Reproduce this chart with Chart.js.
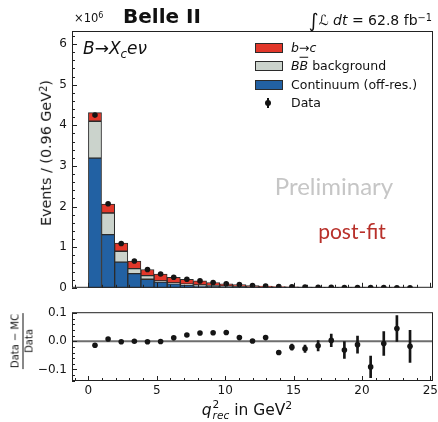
<!DOCTYPE html>
<html>
<head>
<meta charset="utf-8">
<script src="https://cdn.jsdelivr.net/npm/chart.js@4.4.0/dist/chart.umd.min.js"></script>
<style>
  html, body { margin: 0; padding: 0; background: #fff; }
  #wrap { position: relative; width: 438px; height: 422px; overflow: hidden; font-family: "DejaVu Sans", sans-serif; color: #111; }
  #mainChart { position: absolute; left: 0; top: 0; }
  #ratioChart { position: absolute; left: 0; top: 300px; }
  .t { position: absolute; white-space: nowrap; line-height: 1; }
  .c { transform: translate(-50%, -50%); }
  .rot { transform: translate(-50%, -50%) rotate(-90deg); }
  .sup { font-size: 0.7em; position: relative; top: -0.45em; }
  .patch { position: absolute; width: 26px; height: 8px; border: 1px solid #2b2b2b; }
  .leg { position: absolute; left: 291px; font-size: 12.5px; line-height: 1; white-space: nowrap; transform: translateY(-50%); }
  .ss { display: inline-flex; flex-direction: column; vertical-align: middle; font-size: 0.68em; line-height: 1; margin-left: 1px; }
  .frac { display: inline-flex; flex-direction: column; align-items: center; font-size: 10px; line-height: 1.15; }
  .frac .num { border-bottom: 1px solid #111; padding: 0 1px 1px; }
</style>
</head>
<body>
<div id="wrap">
  <canvas id="mainChart" width="438" height="300"></canvas>
  <canvas id="ratioChart" width="438" height="122"></canvas>

  <div class="t" style="left:74px; top:13px; font-size:11.5px;">×10<span class="sup">6</span></div>
  <div class="t" style="left:123px; top:6px; font-size:20px; font-weight:bold;">Belle II</div>
  <div class="t" style="right:6px; top:9px; font-size:14px;"><span style="font-size:1.35em; position:relative; top:0.08em;">∫</span><i>ℒ dt</i> = 62.8 fb<span class="sup">−1</span></div>

  <div class="t" style="left:83px; top:40px; font-size:17px; font-style:italic;">B→X<span style="font-size:0.7em; position:relative; top:0.35em;">c</span>eν</div>

  <div class="patch" style="left:255px; top:43px; background:#e2372a;"></div>
  <div class="leg" style="top:47.5px;"><i>b</i>→<i>c</i></div>
  <div class="patch" style="left:255px; top:61px; background:#cbd3cc;"></div>
  <div class="leg" style="top:66px;"><i>B</i><i style="text-decoration:overline;">B</i> background</div>
  <div class="patch" style="left:255px; top:80px; background:#2261a3;"></div>
  <div class="leg" style="top:84.5px;">Continuum (off-res.)</div>
  <div style="position:absolute; left:267px; top:98px; width:2px; height:10px; background:#111;"></div>
  <div style="position:absolute; left:265px; top:100px; width:6px; height:6px; border-radius:50%; background:#111;"></div>
  <div class="leg" style="top:103px;">Data</div>

  <div class="t c" style="left:334px; top:186px; font-family:Lato, sans-serif; font-size:24px; color:#c6c6c6;">Preliminary</div>
  <div class="t c" style="left:352px; top:230px; font-family:Lato, sans-serif; font-size:21px; color:#b8302a;">post-fit</div>

  <div class="t rot" style="left:46px; top:153px; font-size:14.3px;">Events / (0.96 GeV<span class="sup">2</span>)</div>
  <div class="t rot" style="left:20px; top:341px;"><span class="frac"><span class="num">Data − MC</span><span>Data</span></span></div>
  <div class="t c" style="left:247px; top:410px; font-size:15.5px;"><i>q</i><span class="ss"><span>2</span><i>rec</i></span> in GeV<span class="sup">2</span></div>
</div>

<script>
// bin centres of q^2_rec (GeV^2), bin width 0.96
const binCenters = [0.48, 1.44, 2.40, 3.36, 4.32, 5.28, 6.24, 7.20, 8.16, 9.12, 10.08, 11.04, 12.00,
                    12.96, 13.92, 14.88, 15.84, 16.80, 17.76, 18.72, 19.68, 20.64, 21.60, 22.56, 23.52];

// stacked MC templates, in units of 10^6 events
const continuum = [3.19, 1.31, 0.63, 0.35, 0.21, 0.14, 0.10, 0.07, 0.05, 0.04, 0.03, 0.022, 0.016,
                   0.012, 0.009, 0.007, 0.005, 0.004, 0.003, 0.002, 0.002, 0.0015, 0.001, 0.001, 0.0008];
const bbBackground = [0.91, 0.53, 0.27, 0.12, 0.09, 0.03, 0.02, 0.02, 0.02, 0.015, 0.01, 0.008, 0.006,
                      0.005, 0.004, 0.003, 0.002, 0.002, 0.0015, 0.001, 0.001, 0.001, 0.0008, 0.0006, 0.0005];
const bToC = [0.21, 0.22, 0.20, 0.19, 0.15, 0.17, 0.14, 0.12, 0.10, 0.075, 0.06, 0.05, 0.033,
              0.023, 0.018, 0.012, 0.010, 0.007, 0.006, 0.005, 0.003, 0.0025, 0.002, 0.0015, 0.001];
const dataVals = [4.25, 2.07, 1.09, 0.66, 0.45, 0.34, 0.26, 0.21, 0.17, 0.13, 0.10, 0.08, 0.055,
                  0.04, 0.03, 0.022, 0.017, 0.013, 0.010, 0.008, 0.006, 0.005, 0.004, 0.003, 0.002];

// (Data - MC) / Data and its uncertainty
const ratioVals = [-0.014, 0.008, -0.002, 0.000, -0.002, -0.001, 0.012, 0.022, 0.029, 0.030, 0.031, 0.013, 0.001,
                   0.013, -0.040, -0.021, -0.027, -0.016, 0.003, -0.031, -0.012, -0.091, -0.008, 0.045, -0.018];
const ratioErr = [0.003, 0.003, 0.003, 0.003, 0.003, 0.003, 0.003, 0.003, 0.003, 0.004, 0.004, 0.004, 0.005,
                  0.006, 0.008, 0.011, 0.013, 0.018, 0.022, 0.030, 0.030, 0.038, 0.042, 0.046, 0.057];

// ticks
const xMajor = [0, 5, 10, 15, 20, 25];
const mainYMajor = [0, 1, 2, 3, 4, 5, 6];
const ratioYMajor = [-0.1, 0, 0.1];

const RED = '#e2372a';
const GREY = '#cbd3cc';
const BLUE = '#2261a3';
const INK = '#151515';

function minorTicks(lo, hi, step, major) {
    const out = [];
    for (let v = lo; v <= hi + 1e-9; v += step) {
        const r = Math.round(v * 1000) / 1000;
        if (!major.some(m => Math.abs(m - r) < 1e-6)) out.push(r);
    }
    return out;
}

// matplotlib-like frame with inward ticks on the left and bottom
const frameTicks = {
    id: 'frameTicks',
    afterDraw(chart, args, opts) {
        const { ctx, chartArea: a, scales } = chart;
        ctx.save();
        ctx.strokeStyle = '#222';
        ctx.lineWidth = 1;
        ctx.strokeRect(a.left + 0.5, a.top + 0.5, a.width - 1, a.height - 1);
        const draw = (axis, vals, len) => vals.forEach(v => {
            const p = Math.round(scales[axis].getPixelForValue(v)) + 0.5;
            ctx.beginPath();
            if (axis === 'x') { ctx.moveTo(p, a.bottom); ctx.lineTo(p, a.bottom - len); }
            else { ctx.moveTo(a.left, p); ctx.lineTo(a.left + len, p); }
            ctx.stroke();
        });
        draw('x', opts.xMajor, 5);
        draw('x', opts.xMinor, 3);
        draw('y', opts.yMajor, 5);
        draw('y', opts.yMinor, 3);
        ctx.restore();
    }
};

const zeroLine = {
    id: 'zeroLine',
    beforeDatasetsDraw(chart, args, opts) {
        if (!opts.show) return;
        const { ctx, chartArea: a, scales } = chart;
        const y = scales.y.getPixelForValue(0);
        ctx.save();
        ctx.strokeStyle = '#6e6e6e';
        ctx.lineWidth = 2;
        ctx.beginPath();
        ctx.moveTo(a.left, y);
        ctx.lineTo(a.right, y);
        ctx.stroke();
        ctx.restore();
    }
};

const tickFont = { family: 'DejaVu Sans', size: 12 };
const xMinor = minorTicks(-1, 25, 1, xMajor);
const noGrid = { display: false, drawTicks: false };

// keep both panels the same width: drop the label overflow padding
function fixXHeight(h) {
    return s => { s.height = h; s.paddingLeft = 0; s.paddingRight = 0; };
}

function histSet(label, values, color) {
    return {
        type: 'bar',
        label: label,
        data: binCenters.map((x, i) => ({ x: x, y: values[i] })),
        backgroundColor: color,
        borderColor: '#2b2b2b',
        borderWidth: 1,
        borderSkipped: false,
        barPercentage: 1,
        categoryPercentage: 1,
        stack: 'mc',
        order: 1
    };
}

new Chart(document.getElementById('mainChart'), {
    type: 'bar',
    data: {
        datasets: [
            histSet('Continuum (off-res.)', continuum, BLUE),
            histSet('BB background', bbBackground, GREY),
            histSet('b→c', bToC, RED),
            {
                type: 'scatter',
                label: 'Data',
                data: binCenters.map((x, i) => ({ x: x, y: dataVals[i] })),
                backgroundColor: INK,
                borderWidth: 0,
                pointRadius: 2.8,
                stack: 'data',
                order: 0
            }
        ]
    },
    options: {
        responsive: false,
        animation: false,
        layout: { padding: { left: 0, right: 5, top: 31, bottom: 0 } },
        plugins: {
            legend: { display: false },
            tooltip: { enabled: false },
            zeroLine: { show: false },
            frameTicks: {
                xMajor: xMajor, xMinor: xMinor,
                yMajor: mainYMajor, yMinor: minorTicks(0, 6.2, 0.2, mainYMajor)
            }
        },
        scales: {
            x: {
                type: 'linear', min: -1.2, max: 25.2, stacked: true, offset: false,
                grid: noGrid, border: { display: false },
                ticks: { display: false },
                afterFit: fixXHeight(8)
            },
            y: {
                type: 'linear', min: 0, max: 6.32, stacked: true,
                grid: noGrid, border: { display: false },
                ticks: { font: tickFont, color: INK, padding: 5 },
                afterBuildTicks: s => { s.ticks = mainYMajor.map(v => ({ value: v })); },
                afterFit: s => { s.width = 72; }
            }
        }
    },
    plugins: [frameTicks, zeroLine]
});

new Chart(document.getElementById('ratioChart'), {
    type: 'bar',
    data: {
        datasets: [
            {
                type: 'bar',
                label: 'uncertainty',
                data: binCenters.map((x, i) => ({ x: x, y: [ratioVals[i] - ratioErr[i], ratioVals[i] + ratioErr[i]] })),
                backgroundColor: INK,
                barThickness: 2,
                order: 1
            },
            {
                type: 'scatter',
                label: 'Data',
                data: binCenters.map((x, i) => ({ x: x, y: ratioVals[i] })),
                backgroundColor: INK,
                borderWidth: 0,
                pointRadius: 2.8,
                order: 0
            }
        ]
    },
    options: {
        responsive: false,
        animation: false,
        layout: { padding: { left: 0, right: 5, top: 6, bottom: 0 } },
        plugins: {
            legend: { display: false },
            tooltip: { enabled: false },
            zeroLine: { show: true },
            frameTicks: {
                xMajor: xMajor, xMinor: xMinor,
                yMajor: ratioYMajor, yMinor: minorTicks(-0.14, 0.1, 0.02, ratioYMajor)
            }
        },
        scales: {
            x: {
                type: 'linear', min: -1.2, max: 25.2, offset: false,
                grid: noGrid, border: { display: false },
                ticks: { font: tickFont, color: INK, padding: 3 },
                afterBuildTicks: s => { s.ticks = xMajor.map(v => ({ value: v })); },
                afterFit: fixXHeight(41)
            },
            y: {
                type: 'linear', min: -0.141, max: 0.103,
                grid: noGrid, border: { display: false },
                ticks: {
                    font: tickFont, color: INK, padding: 5,
                    callback: v => v.toFixed(1).replace('-', '−')
                },
                afterBuildTicks: s => { s.ticks = ratioYMajor.map(v => ({ value: v })); },
                afterFit: s => { s.width = 72; }
            }
        }
    },
    plugins: [frameTicks, zeroLine]
});
</script>
</body>
</html>
